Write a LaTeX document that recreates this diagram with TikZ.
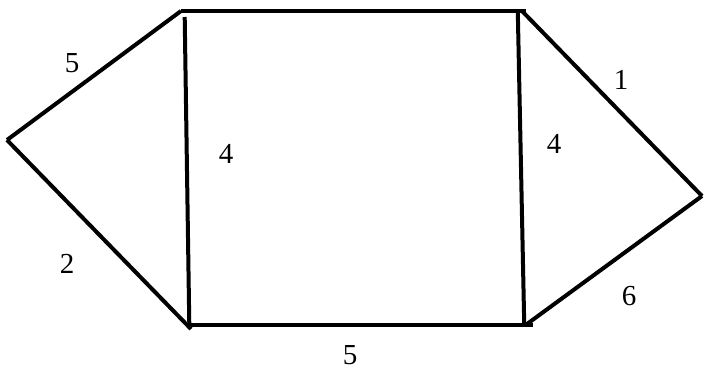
\documentclass[tikz,border=0pt]{standalone}
\usepackage{fontspec}
\setmainfont{Liberation Serif}
\tikzset{
  edge/.style={line width=4pt, line cap=butt, black},
  lbl/.style={font=\fontsize{29}{32}\selectfont, inner sep=0pt, anchor=center}
}
\begin{document}
\begin{tikzpicture}[x=1pt,y=-1pt]
\useasboundingbox (0,0) rectangle (704,373);
% vertices
\coordinate (L) at (7,140);
\coordinate (TL) at (181,11);
\coordinate (TR) at (526,11);
\coordinate (TRd) at (522,11);
\coordinate (R) at (702,196);
\coordinate (BL) at (191,329);
\coordinate (BLs) at (190,325);
\coordinate (BR) at (533,325);
\coordinate (BRd) at (527,324);
\coordinate (VLt) at (184.7,17);
\coordinate (VLb) at (189.3,325);
\coordinate (VRt) at (517.8,12);
\coordinate (VRb) at (524.2,323);
% edges
\draw[edge] (L) -- (TL);
\draw[edge] (TL) -- (TR);
\draw[edge] (TRd) -- (R);
\draw[edge] (R) -- (BRd);
\draw[edge] (L) -- (BL);
\draw[edge] (BLs) -- (BR);
\draw[edge] (VLt) -- (VLb);
\draw[edge] (VRt) -- (VRb);
% labels
\node[lbl] (l5a) at (72,63) {5};
\node[lbl] (l2) at (67,264) {2};
\node[lbl] (l4a) at (226,154) {4};
\node[lbl] (l4b) at (554,144) {4};
\node[lbl] (l1) at (621,80) {1};
\node[lbl] (l6) at (629,296) {6};
\node[lbl] (l5b) at (350,355) {5};
\end{tikzpicture}
\end{document}
